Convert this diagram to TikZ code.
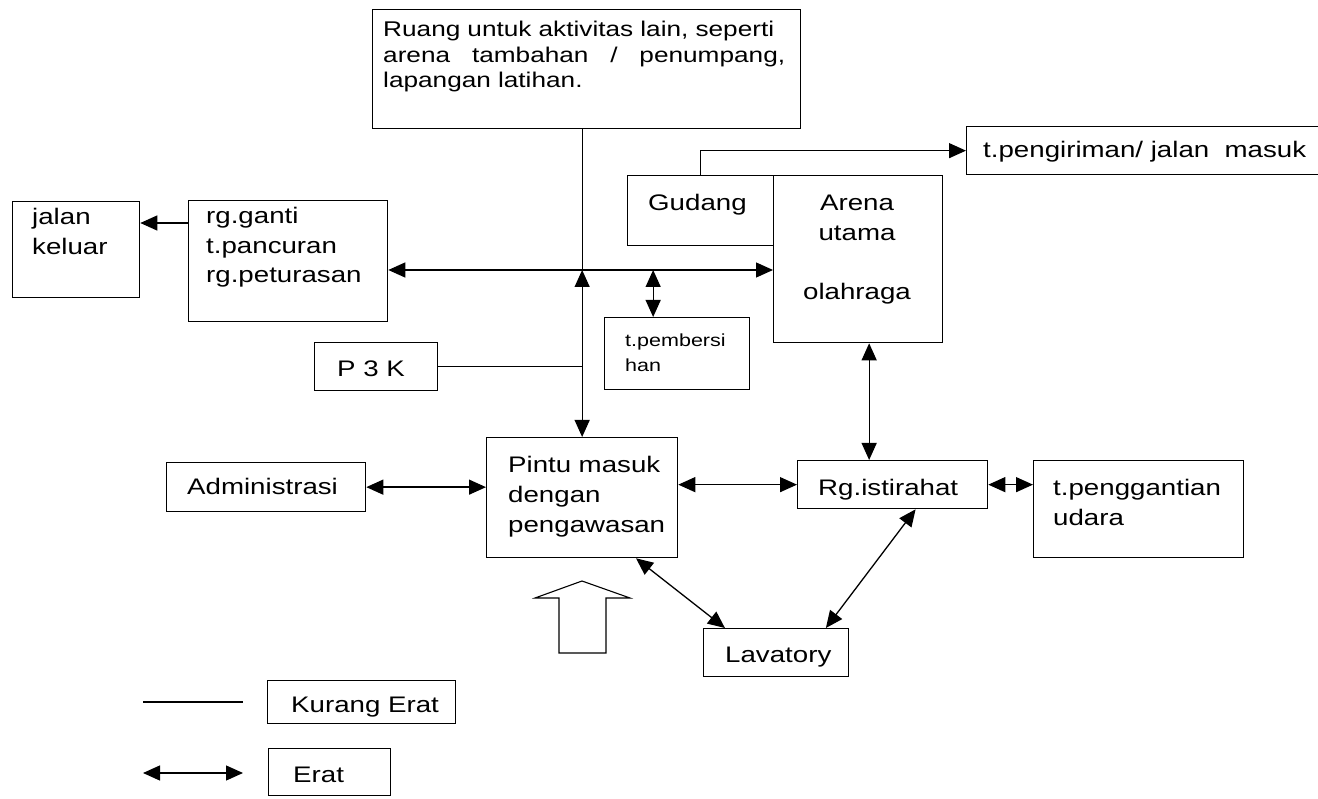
\documentclass[tikz,border=0pt]{standalone}
\usepackage{fontspec}
\setmainfont{Liberation Sans}[FakeStretch=1.23]
\usetikzlibrary{arrows.meta,calc}
\begin{document}
\begin{tikzpicture}[x=1pt,y=-1pt,
  box/.style={draw, line width=1.3pt, inner sep=0pt, anchor=north west},
  txt/.style={inner sep=0pt, anchor=base west, font=\fontsize{22.5}{29.5}\selectfont},
  mtxt/.style={txt, text width=#1, align=left},
  smalltxt/.style={inner sep=0pt, anchor=base west, text width=130pt, align=left, font=\fontsize{17.5}{25}\selectfont},
  erat/.style={line width=1.3pt, {Triangle[length=17pt,width=15pt]}-{Triangle[length=17pt,width=15pt]}},
  satu/.style={line width=1.3pt, -{Triangle[length=17pt,width=15pt]}},
  kurang/.style={line width=1.3pt},
]
\useasboundingbox (0,0) rectangle (1318,799);
\fill[white] (0,0) rectangle (1318,799);

% boxes
\node[box, minimum width=428pt, minimum height=119pt] (top) at (372,9) {};
\node[box, minimum width=380pt, minimum height=48pt] (kirim) at (966,126) {};
\node[box, minimum width=127pt, minimum height=96pt] (keluar) at (12,201) {};
\node[box, minimum width=199pt, minimum height=121pt] (ganti) at (188,200) {};
\node[box, minimum width=146pt, minimum height=70pt] (gudang) at (627,175) {};
\node[box, minimum width=169pt, minimum height=167pt] (arena) at (773,175) {};
\node[box, minimum width=145pt, minimum height=72pt] (pemb) at (604,317) {};
\node[box, minimum width=123pt, minimum height=48pt] (p3k) at (314,342) {};
\node[box, minimum width=199pt, minimum height=49pt] (admin) at (166,462) {};
\node[box, minimum width=191pt, minimum height=120pt] (pintu) at (486,437) {};
\node[box, minimum width=190pt, minimum height=48pt] (rg) at (797,460) {};
\node[box, minimum width=210pt, minimum height=97pt] (udara) at (1033,460) {};
\node[box, minimum width=145pt, minimum height=48pt] (lav) at (703,628) {};
\node[box, minimum width=188pt, minimum height=43pt] (kurangbox) at (267,680) {};
\node[box, minimum width=122pt, minimum height=47pt] (eratbox) at (268,748) {};

% texts
\node[txt, text width=430pt, align=left, font=\fontsize{21.3}{25.5}\selectfont] (toptext) at (383,37)
  {\mbox{Ruang untuk aktivitas lain, seperti}\\
   \makebox[402pt][s]{arena\hfill tambahan\hfill /\hfill penumpang,}\\
   lapangan latihan.};
\node[txt] (kirimtext) at (983,158) {t.pengiriman/ jalan\ \ masuk};
\node[mtxt=100pt] (keluartext) at (32,225) {jalan\\keluar};
\node[mtxt=180pt] (gantitext) at (206,224) {rg.ganti\\t.pancuran\\rg.peturasan};
\node[txt] (gudangtext) at (648,211) {Gudang};
\node[txt, anchor=base, text width=160pt, align=center] (arenatext) at (857,211) {Arena\\utama\\[30pt]olahraga};
\node[smalltxt] (pembtext) at (625,347) {t.pembersi\\han};
\node[txt] (p3ktext) at (337,377) {P 3 K};
\node[txt] (admintext) at (187,495) {Administrasi};
\node[mtxt=170pt, font=\fontsize{22.5}{30}\selectfont] (pintutext) at (508,473) {Pintu masuk\\dengan\\pengawasan};
\node[txt] (rgtext) at (818,496) {Rg.istirahat};
\node[mtxt=185pt] (udaratext) at (1053,496) {t.penggantian\\udara};
\node[txt] (lavtext) at (725,662) {Lavatory};
\node[txt] (kurangtext) at (291,712) {Kurang Erat};
\node[txt] (erattext) at (293,782) {Erat};

% junction
\coordinate (j) at ($(pintu.north)+(0,-167)$);

% connectors
\draw[kurang] (pintu.north |- top.south) -- (j);
\draw[erat] (j) -- (pintu.north);
\draw[erat] (ganti.east |- j) -- (arena.west |- j);
\draw[erat] ([xshift=-24pt]pemb.north |- j) -- ([xshift=-24pt]pemb.north);
\draw[kurang] (p3k.east) -- (p3k.east -| j);
\draw[satu] (gudang.north) |- (kirim.west);
\draw[satu] (ganti.west |- 0,223) -- (keluar.east |- 0,223);
\draw[erat] ([xshift=11pt]arena.south) -- ([xshift=11pt]arena.south |- rg.north);
\draw[erat] (admin.east) -- (admin.east -| pintu.west);
\draw[erat] (pintu.east |- rg.west) -- (rg.west);
\draw[erat] (rg.east) -- (rg.east -| udara.west);
\draw[erat] ($(pintu.south west)!0.78!(pintu.south east)$) -- ($(lav.north west)!0.15!(lav.north east)$);
\draw[erat] ($(rg.south west)!0.62!(rg.south east)$) -- ($(lav.north west)!0.84!(lav.north east)$);

% big hollow entrance arrow
\draw[line width=1.1pt] (582,581) -- (630,598) -- (606,598) -- (606,653) -- (559,653) -- (559,598) -- (535,598) -- cycle;

% legend
\draw[kurang] ([xshift=-124pt]kurangbox.west |- 0,702) -- ([xshift=-24pt]kurangbox.west |- 0,702);
\draw[erat] ([xshift=-125pt]eratbox.west |- 0,773) -- ([xshift=-25pt]eratbox.west |- 0,773);
\end{tikzpicture}
\end{document}
